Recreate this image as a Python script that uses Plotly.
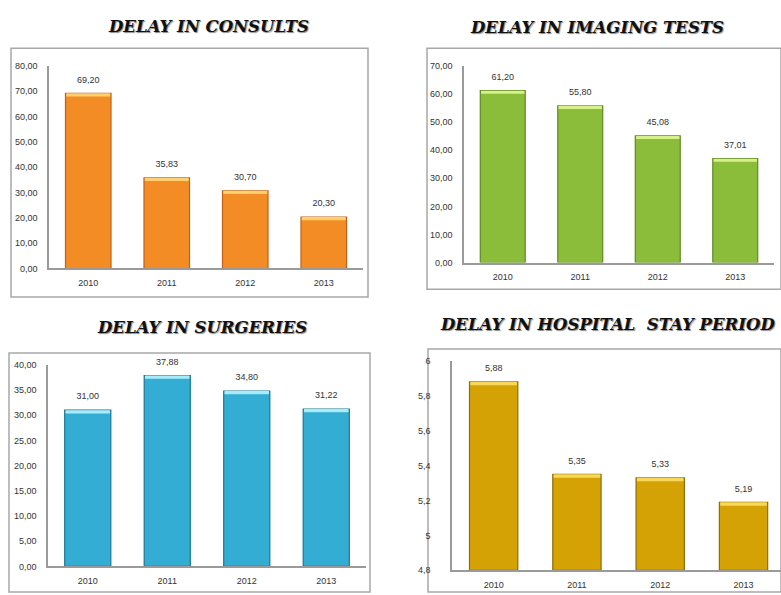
import plotly.graph_objects as go

W, H = 781, 595

years = ["2010", "2011", "2012", "2013"]
consults = [69.20, 35.83, 30.70, 20.30]
imaging = [61.20, 55.80, 45.08, 37.01]
surgeries = [31.00, 37.88, 34.80, 31.22]
hospital = [5.88, 5.35, 5.33, 5.19]

titles = ["DELAY IN CONSULTS", "DELAY IN IMAGING TESTS",
          "DELAY IN SURGERIES", "DELAY IN HOSPITAL  STAY PERIOD"]

panels = [
    dict(v=consults, fill="#F48C25", edge="#C0601A", cap="#FFD070",
         xd=(49, 363), yd=(62, 268), yr=(0, 80), dt=10, tf=".2f", xr=(-0.5, 3.5),
         box=(11, 44, 368, 297), tp=(208, 22), so=8),
    dict(v=imaging, fill="#8CBD3A", edge="#5E8A22", cap="#D6F08A",
         xd=(464, 774), yd=(62, 262), yr=(0, 70), dt=10, tf=".2f", xr=(-0.5, 3.5),
         box=(427, 44, 781, 289), tp=(597, 23), so=8),
    dict(v=surgeries, fill="#33ADD3", edge="#1D7590", cap="#A8ECFA",
         xd=(48, 366), yd=(366, 571), yr=(0, 40), dt=5, tf=".2f", xr=(-0.5, 3.5),
         box=(9, 354, 370, 597), tp=(202, 328), so=8),
    dict(v=hospital, fill="#D4A204", edge="#8E6C06", cap="#F7D85A",
         xd=(452, 781), yd=(362, 575), yr=(4.8, 6.0), dt=0.2, tf="", xr=(-0.5, 3.45),
         box=(428, 350, 781, 597), tp=(607, 325), so=18),
]

fig = go.Figure()
layout = dict(width=W, height=H, margin=dict(l=0, r=0, t=0, b=0),
              paper_bgcolor="white", plot_bgcolor="white", showlegend=False,
              barmode="overlay", separators=",.", shapes=[], annotations=[])

for i, p in enumerate(panels, start=1):
    xa = "x" if i == 1 else f"x{i}"
    ya = "y" if i == 1 else f"y{i}"
    span = p["yr"][1] - p["yr"][0]
    lo = p["yr"][0]
    fig.add_trace(go.Bar(
        x=years, y=[v - lo for v in p["v"]], base=lo,
        xaxis=xa, yaxis=ya, width=0.58,
        marker=dict(color=p["fill"], line=dict(color=p["edge"], width=1.2)),
        hoverinfo="skip"))
    cap = span * 0.016
    fig.add_trace(go.Bar(
        x=years, y=[cap] * len(p["v"]), base=[v - cap for v in p["v"]],
        xaxis=xa, yaxis=ya, width=0.56,
        marker=dict(color=p["cap"], line=dict(width=0)),
        hoverinfo="skip"))
    fig.add_trace(go.Scatter(
        x=years, y=p["v"], xaxis=xa, yaxis=ya, mode="markers+text",
        marker=dict(size=12, color="rgba(0,0,0,0)"),
        text=[f"{v:.2f}".replace(".", ",") for v in p["v"]],
        textposition="top center", cliponaxis=False,
        textfont=dict(family="Liberation Sans", size=9, color="#333333"),
        hoverinfo="skip"))
    layout[f"xaxis{'' if i == 1 else i}"] = dict(
        domain=[p["xd"][0] / W, p["xd"][1] / W], anchor=ya, type="category",
        range=list(p["xr"]), showline=True, linecolor="#9A9A9A", linewidth=1.5,
        showgrid=False, zeroline=False, ticks="", ticklabelstandoff=5,
        tickfont=dict(family="Liberation Sans", size=9, color="#333333"))
    layout[f"yaxis{'' if i == 1 else i}"] = dict(
        domain=[1 - p["yd"][1] / H, 1 - p["yd"][0] / H], anchor=xa,
        range=list(p["yr"]), dtick=p["dt"], tick0=p["yr"][0], tickformat=p["tf"],
        showline=True, linecolor="#9A9A9A", linewidth=1.5,
        showgrid=False, zeroline=False, ticks="", ticklabelstandoff=p["so"],
        tickfont=dict(family="Liberation Sans", size=9, color="#333333"))
    x0, y0, x1, y1 = p["box"]
    layout["shapes"].append(dict(type="rect", xref="paper", yref="paper",
                                 x0=x0 / W, x1=x1 / W, y0=1 - y1 / H, y1=1 - y0 / H,
                                 line=dict(color="#A8A8A8", width=1.5), layer="below"))
    layout["annotations"].append(dict(
        text=titles[i - 1], xref="paper", yref="paper",
        x=p["tp"][0] / W, y=1 - p["tp"][1] / H, xanchor="center", yanchor="middle",
        showarrow=False,
        font=dict(family="DejaVu Serif", size=16.5, color="#111111", weight="bold",
                  style="italic", shadow="1px 1px 1px #888888")))

fig.update_layout(**layout)
fig.write_html("out.html", config={"displayModeBar": False},
               post_script="document.body.style.margin='0';document.body.style.overflow='hidden';")
